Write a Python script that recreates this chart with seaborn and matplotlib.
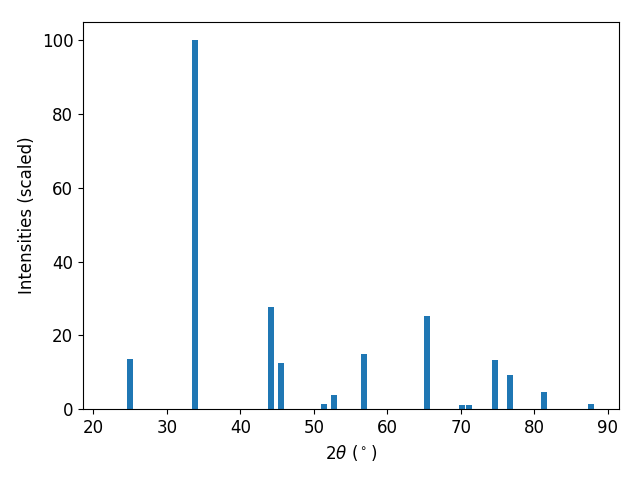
import matplotlib
matplotlib.use("Agg")
import matplotlib.pyplot as plt
import seaborn as sns
import pandas as pd

two_theta = [24.99, 33.84, 44.18, 45.54, 51.39, 52.71, 56.77, 65.38, 70.17, 71.17, 74.66, 76.7, 81.33, 87.72]
intensity = [13.5, 100.0, 27.6, 12.5, 1.35, 3.8, 14.9, 25.2, 1.1, 1.1, 13.3, 9.2, 4.6, 1.35]

df = pd.DataFrame({"two_theta": two_theta, "intensity": intensity})

plt.rcParams['font.family'] = ['DejaVu Sans']
fig, ax = plt.subplots(figsize=(6.4, 4.8), dpi=100)
sns.barplot(data=df, x="two_theta", y="intensity", native_scale=True, width=0.82,
            color="#1f77b4", saturation=1, ax=ax, errorbar=None, linewidth=0)
ax.set_xlim(18.6, 91.57)
ax.set_ylim(0, 105)
ax.set_xlabel(r"2$\theta$ ($^\circ$)", fontsize=12)
ax.set_ylabel("Intensities (scaled)", fontsize=12)
ax.tick_params(labelsize=12)
fig.subplots_adjust(left=0.1297, right=0.9677, top=0.9548, bottom=0.1473)
fig.savefig("out.png", dpi=100)
